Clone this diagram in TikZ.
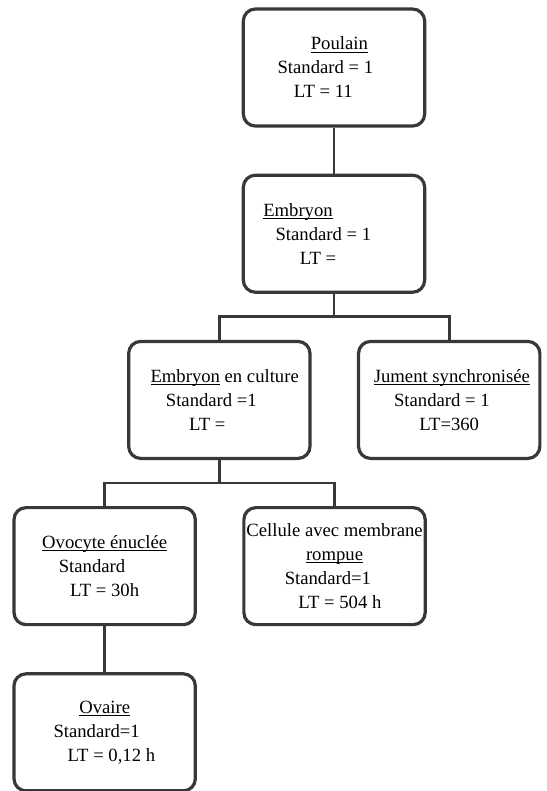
\documentclass[tikz,border=0pt]{standalone}
\usepackage{fontspec}
\setmainfont{Liberation Serif}
\usetikzlibrary{positioning,calc}
\definecolor{BoxLine}{HTML}{383838}
\newcommand{\nudge}[2]{\hspace*{#1}#2\hspace*{-#1}}
\newcommand{\uln}[1]{\setbox0\hbox{#1}\rlap{\rule[-2pt]{\wd0}{0.6pt}}\box0\relax}

\begin{document}
\begin{tikzpicture}[node distance=34.5pt, every node/.style={align=center, font=\fontsize{14}{18}\selectfont},
  stagebox/.style={draw=BoxLine, line width=2.4pt, rounded corners=9pt, fill=white, minimum width=136pt, minimum height=87.75pt, inner xsep=1pt},
  link/.style={draw=BoxLine, line width=2.2pt}]
  \useasboundingbox (0,0) rectangle (409.5pt,593.25pt);
  \node[stagebox] (poulain) at (250.5pt,542.6pt) {\nudge{4pt}{\uln{Poulain}}\\\nudge{-13pt}{Standard = 1}\\\nudge{-8pt}{LT = 11}};
  \node[stagebox,below=of poulain] (embryon) {\nudge{-27pt}{\uln{Embryon}}\\\nudge{-16pt}{Standard = 1}\\\nudge{-12pt}{LT =}};
  \node[stagebox,below=of embryon,xshift=-86pt] (culture) {\nudge{4pt}{\uln{Embryon} en culture}\\\nudge{-12pt}{Standard =1}\\\nudge{-9pt}{LT =}};
  \node[stagebox,right=34pt of culture] (jument) {\nudge{2pt}{\uln{Jument synchronisée}}\\\nudge{-11pt}{Standard = 1}\\LT=360};
  \node[stagebox,below=of culture,xshift=-86pt] (ovocyte) {\uln{Ovocyte énuclée}\\\nudge{-19pt}{Standard}\\LT = 30h};
  \node[stagebox,right=34pt of ovocyte] (cellule) {Cellule avec membrane\\\uln{rompue}\\\nudge{-10pt}{Standard=1}\\\nudge{4pt}{LT = 504 h}};
  \node[stagebox,below=of ovocyte] (ovaire) {\uln{Ovaire}\\\nudge{-12pt}{Standard=1}\\\nudge{5pt}{LT = 0,12 h}};
  \draw[link] (poulain) -- (embryon);
  \coordinate (fork1) at ($(embryon.south)!0.5!(embryon.south |- culture.north)$);
  \draw[link] (embryon.south) -- (fork1) -| (culture.north);
  \draw[link] (fork1) -| (jument.north);
  \coordinate (fork2) at ($(culture.south)!0.5!(culture.south |- ovocyte.north)$);
  \draw[link] (culture.south) -- (fork2) -| (ovocyte.north);
  \draw[link] (fork2) -| (cellule.north);
  \draw[link] (ovocyte) -- (ovaire);
\end{tikzpicture}
\end{document}
